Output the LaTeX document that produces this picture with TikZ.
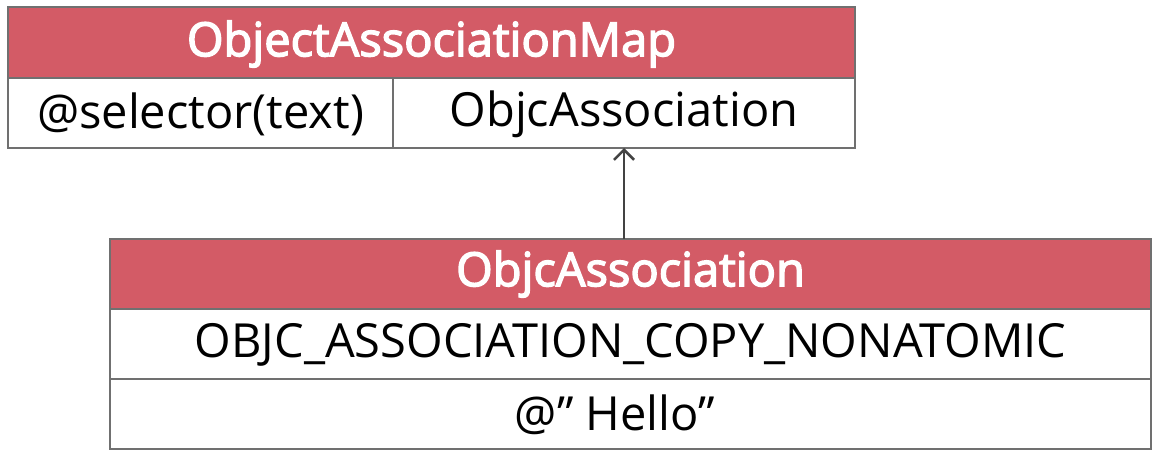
\documentclass[tikz,border=0pt]{standalone}
\usepackage{fontspec}
\setmainfont{Open Sans}
\newfontfamily\hfont[FakeBold=3]{Open Sans}
\usetikzlibrary{arrows.meta}
\definecolor{hdr}{HTML}{D35B66}
\definecolor{lin}{HTML}{707070}
\begin{document}
\begin{tikzpicture}[x=1pt,y=-1pt,
  cell/.style={draw=lin,line width=1.2pt,fill=white},
  head/.style={draw=lin,line width=1.2pt,fill=hdr},
  htxt/.style={text=white,font=\hfont\fontsize{47}{50}\selectfont},
  btxt/.style={text=black,font=\fontsize{47}{50}\selectfont}]
\useasboundingbox (0,0) rectangle (1160,452);
% top table
\path[head] (8,7) rectangle (855,78);
\path[cell] (8,78) rectangle (393,148);
\path[cell] (393,78) rectangle (855,148);
\node[htxt] (t1) at (431.5,44) {ObjectAssociationMap};
\node[btxt] (t2) at (200.5,114) {@selector(text)};
\node[btxt] (t3) at (624,114) {ObjcAssociation};
\coordinate (top) at (624,148);
% bottom table
\path[head] (110,239) rectangle (1151,309);
\path[cell] (110,309) rectangle (1151,379);
\path[cell] (110,379) rectangle (1151,449);
\node[htxt] (b1) at (630.5,274) {ObjcAssociation};
\node[btxt] (b2) at (630.5,345) {OBJC\_ASSOCIATION\_COPY\_NONATOMIC};
\node[btxt] (b3) at (615,415) {@” Hello”};
\coordinate (bot) at (624,239);
\draw[lin!60!black,line width=1.4pt,-{Straight Barb[length=10pt,width=20pt,line width=2.6pt]}] (bot) -- (top);
\end{tikzpicture}
\end{document}
